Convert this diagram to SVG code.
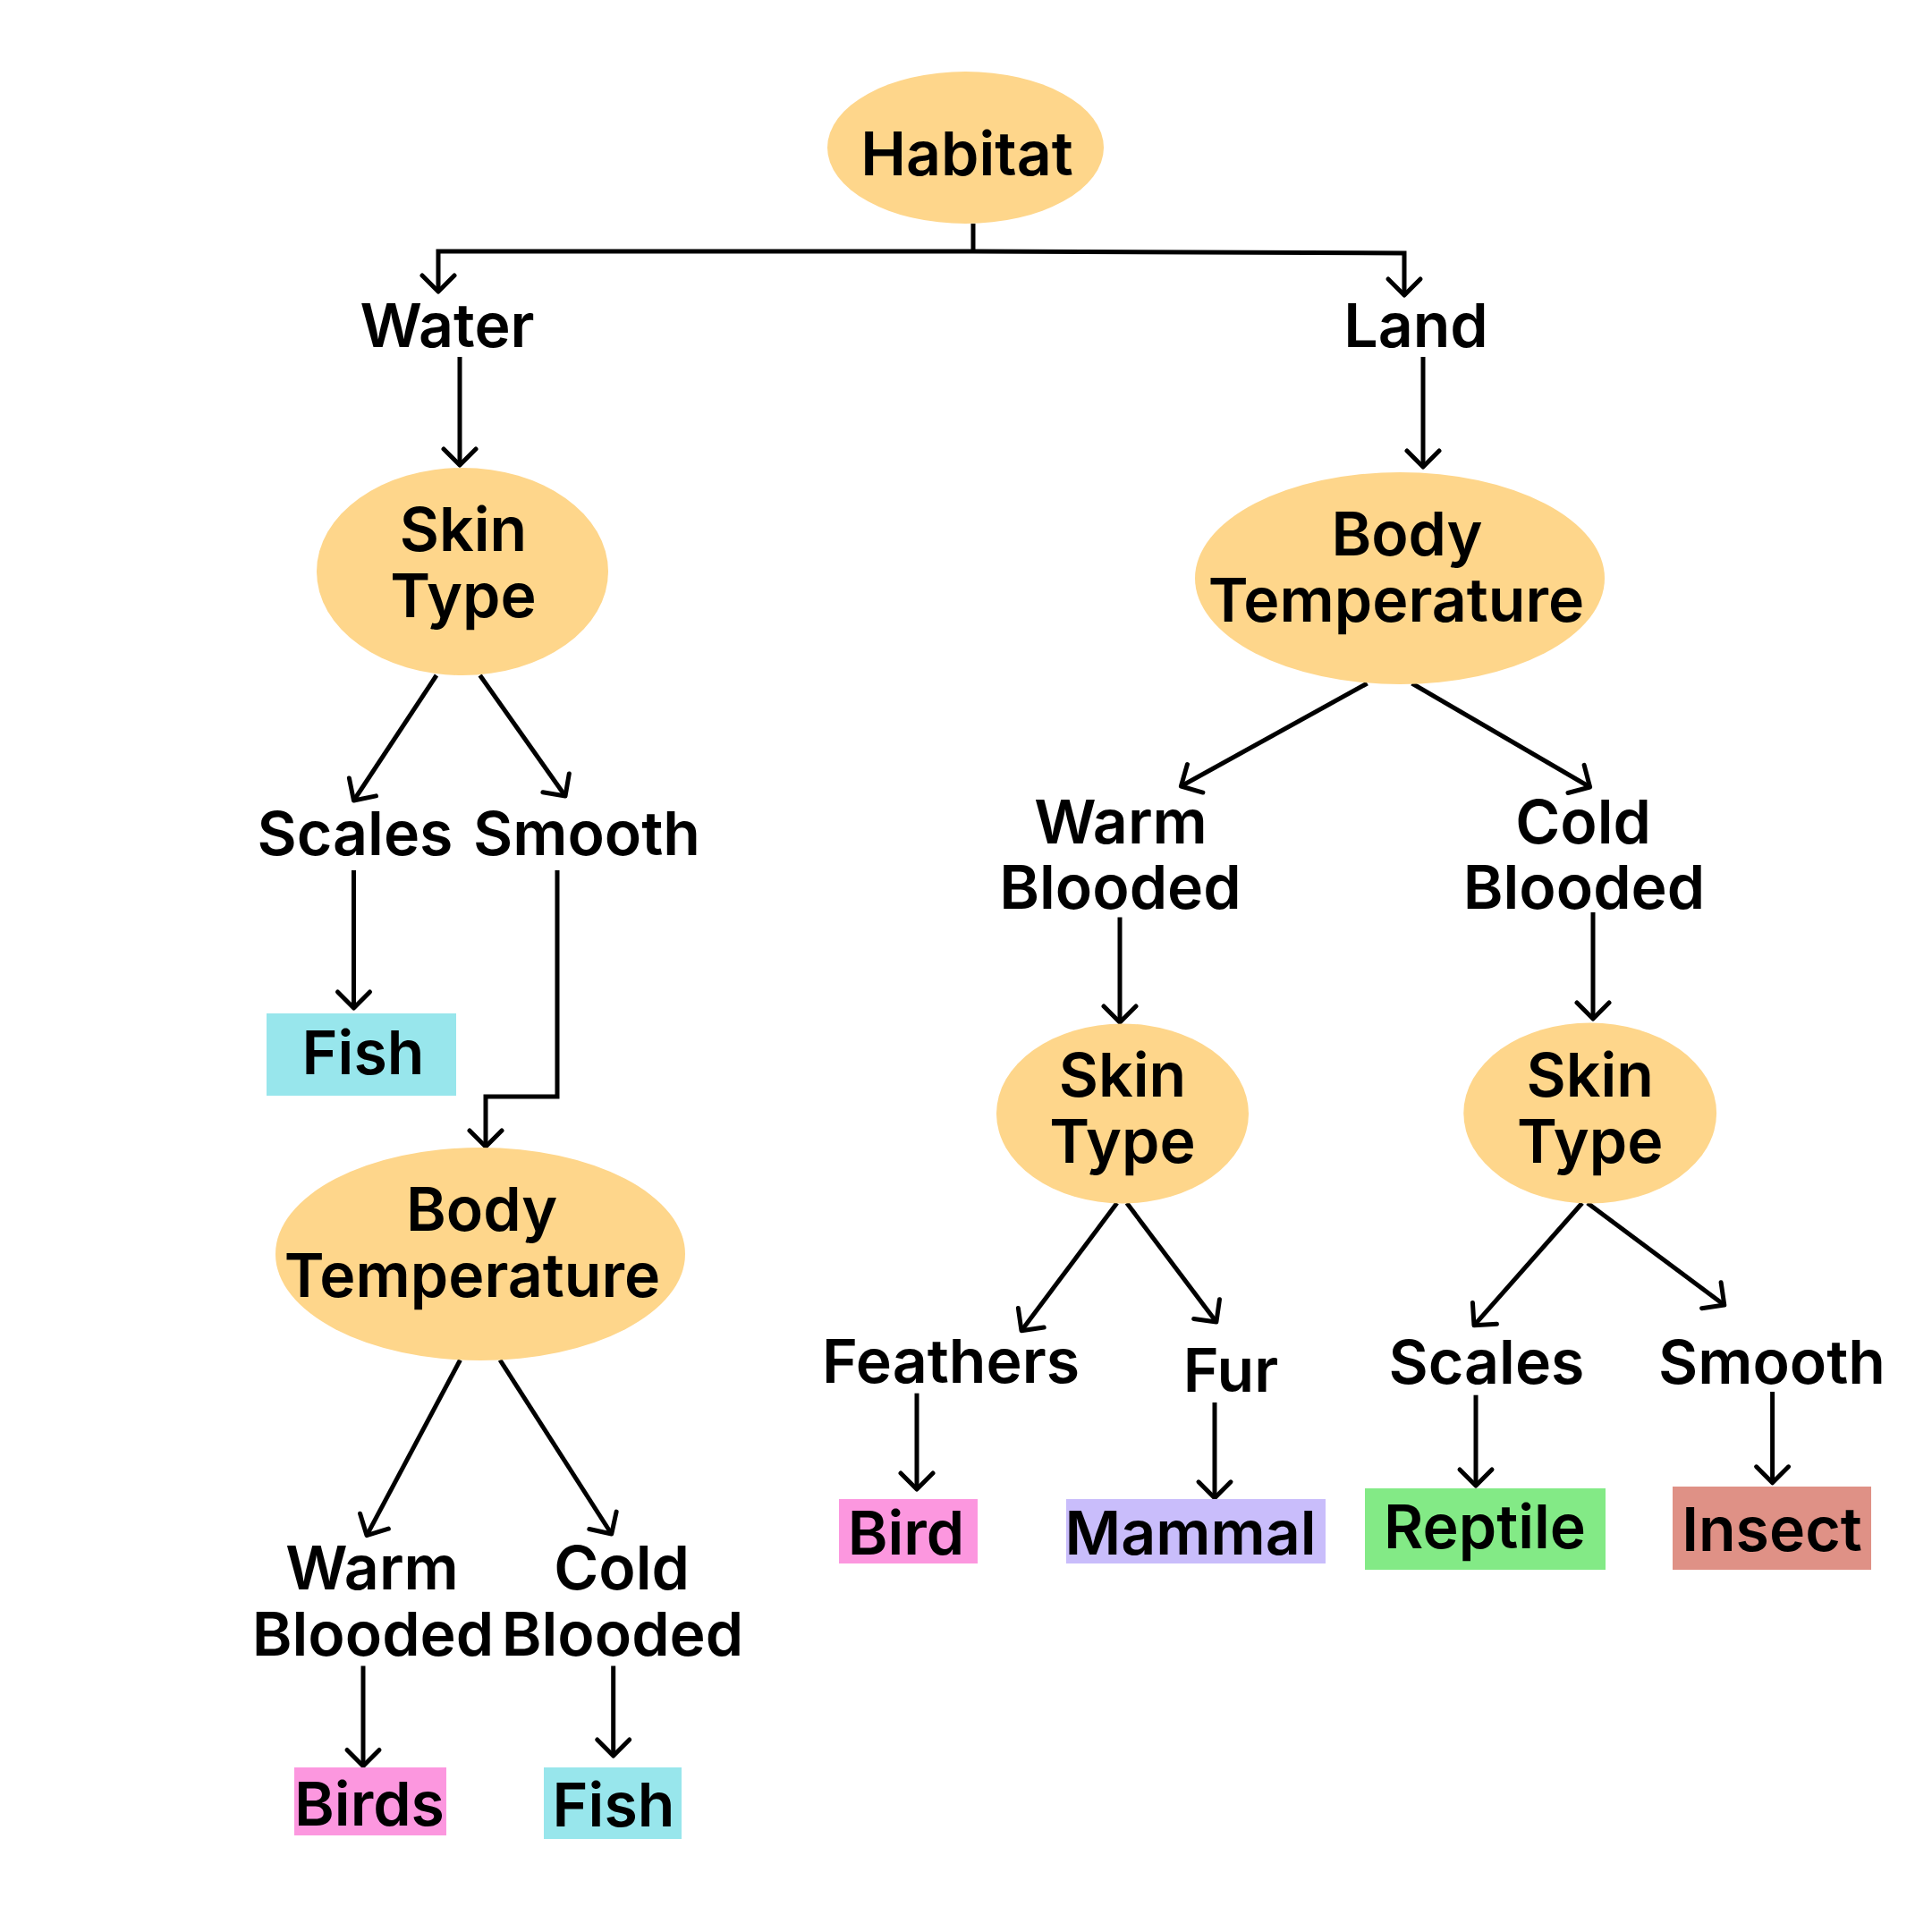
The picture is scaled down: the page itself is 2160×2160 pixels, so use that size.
<svg xmlns="http://www.w3.org/2000/svg" width="2160" height="2160" viewBox="0 0 2160 2160">
<style>
text{font-family:Inter,"Noto Sans","Liberation Sans",sans-serif;font-weight:600;font-size:68px;fill:#000;text-anchor:middle}
.oval{fill:#FED68B}
.conn path{fill:none;stroke:#000;stroke-width:5;stroke-linejoin:miter;marker-end:url(#arr)}
.conn path.plain{marker-end:none}
</style>
<defs>
<marker id="arr" markerUnits="userSpaceOnUse" orient="auto" refX="0" refY="0" markerWidth="60" markerHeight="60" viewBox="-30 -30 60 60" overflow="visible">
<path d="M-18,-18 L0,0 L-18,18" fill="none" stroke="#000" stroke-width="5" stroke-linecap="round" stroke-linejoin="round"/>
</marker>
</defs>
<rect width="2160" height="2160" fill="#fff"/>

<g class="conn" id="connectors">
<path class="plain" d="M1088,250 V281"/>
<path d="M1088,281 H490 V326"/>
<path d="M1088,281 L1570,283 V330"/>
<path d="M514,399 V520"/>
<path d="M1591,399 V522"/>
<path d="M488,755 L395.5,895"/>
<path d="M536.6,755 L632,890"/>
<path d="M395.5,973 V1127"/>
<path d="M623,973 V1226 H543 V1282"/>
<path d="M514.5,1520.5 L410,1716.6"/>
<path d="M559,1520.5 L683.7,1715"/>
<path d="M406,1862.5 V1974.5"/>
<path d="M685.7,1862.5 V1963"/>
<path d="M1528.6,764 L1320.4,879"/>
<path d="M1578.6,764 L1777.6,880"/>
<path d="M1252,1025.5 V1143"/>
<path d="M1781,1020 V1139"/>
<path d="M1248.8,1345 L1142,1487.7"/>
<path d="M1259.8,1345 L1359.9,1478"/>
<path d="M1768.9,1345 L1648,1481.8"/>
<path d="M1774.8,1345 L1927.8,1459"/>
<path d="M1025,1557.7 V1665"/>
<path d="M1358,1568 V1674.8"/>
<path d="M1650,1559.7 V1661"/>
<path d="M1981.6,1556 V1657.8"/>
</g>

<g id="habitat"><ellipse class="oval" cx="1079.5" cy="165" rx="154.5" ry="85"/><text x="1081" y="196">Habitat</text></g>
<g id="water"><text x="500" y="388">Water</text></g>
<g id="land"><text x="1583" y="388">Land</text></g>

<g id="skin-left"><ellipse class="oval" cx="517" cy="639" rx="163" ry="116"/><text x="518" y="616">Skin</text><text x="518" y="689.5">Type</text></g>
<g id="scales-left"><text x="397" y="956">Scales</text></g>
<g id="smooth-left"><text x="656" y="956">Smooth</text></g>
<g id="fish-1"><rect x="298" y="1133" width="212" height="92" fill="#98E6EC"/><text x="406" y="1201">Fish</text></g>
<g id="body-left"><ellipse class="oval" cx="537" cy="1402" rx="229" ry="119"/><text x="538.6" y="1376">Body</text><text x="528" y="1450">Temperature</text></g>
<g id="warm-left"><text x="416" y="1777">Warm</text><text x="417" y="1850.5">Blooded</text></g>
<g id="cold-left"><text x="695" y="1777">Cold</text><text x="696" y="1850.5">Blooded</text></g>
<g id="birds"><rect x="329" y="1976" width="170" height="76" fill="#FC97DF"/><text x="413" y="2041">Birds</text></g>
<g id="fish-2"><rect x="608" y="1976" width="154" height="80" fill="#98E6EC"/><text x="686" y="2042">Fish</text></g>

<g id="body-right"><ellipse class="oval" cx="1565" cy="646.5" rx="229" ry="118.5"/><text x="1573" y="621">Body</text><text x="1561" y="695">Temperature</text></g>
<g id="warm-right"><text x="1253" y="943">Warm</text><text x="1252.5" y="1016">Blooded</text></g>
<g id="cold-right"><text x="1770" y="943">Cold</text><text x="1771" y="1016">Blooded</text></g>
<g id="skin-mid"><ellipse class="oval" cx="1255" cy="1245" rx="141" ry="100.5"/><text x="1255" y="1226">Skin</text><text x="1255" y="1300">Type</text></g>
<g id="skin-right"><ellipse class="oval" cx="1777.7" cy="1244.5" rx="141.4" ry="101"/><text x="1777.7" y="1226">Skin</text><text x="1777.7" y="1300">Type</text></g>
<g id="feathers"><text x="1063" y="1546">Feathers</text></g>
<g id="fur"><text x="1376" y="1556">Fur</text></g>
<g id="scales-right"><text x="1662" y="1547">Scales</text></g>
<g id="smooth-right"><text x="1981" y="1547">Smooth</text></g>
<g id="bird"><rect x="938" y="1676" width="155" height="72" fill="#FC97DF"/><text x="1013" y="1738">Bird</text></g>
<g id="mammal"><rect x="1192" y="1676" width="290" height="72" fill="#C9BDFB"/><text x="1331" y="1738">Mammal</text></g>
<g id="reptile"><rect x="1526" y="1664" width="269" height="91" fill="#83EA86"/><text x="1660" y="1731">Reptile</text></g>
<g id="insect"><rect x="1870" y="1662" width="222" height="93" fill="#DF9186"/><text x="1981" y="1734">Insect</text></g>
</svg>
